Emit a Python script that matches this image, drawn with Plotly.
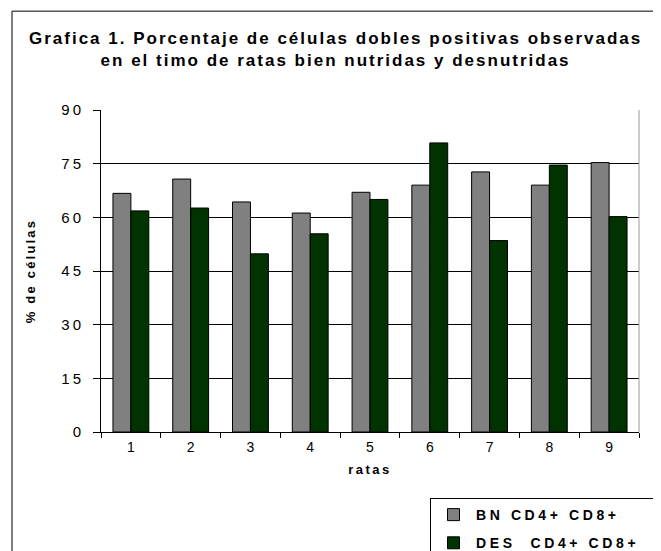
import plotly.graph_objects as go

ratas = ["1", "2", "3", "4", "5", "6", "7", "8", "9"]
bn_cd4_cd8 = [66.7, 70.7, 64.3, 61.2, 67.0, 69.0, 72.7, 69.0, 75.3]
des_cd4_cd8 = [61.8, 62.6, 49.8, 55.4, 65.0, 80.8, 53.5, 74.6, 60.2]
y_ticks = [0, 15, 30, 45, 60, 75, 90]

FONT = "Liberation Sans, Arial, sans-serif"


def spaced(text, sp=1.5):
    return f'<span style="letter-spacing:{sp}px">{text}</span>'


def frame_line(x0, y0, x1, y1, color="black"):
    return dict(type="line", xref="paper", yref="paper",
                x0=x0, y0=y0, x1=x1, y1=y1,
                line=dict(color=color, width=1))


# figure is larger than the window on purpose: the legend box runs off the
# right and bottom edges like in the original, without squeezing the plot
fig = go.Figure()

fig.add_trace(
    go.Bar(
        x=ratas,
        y=bn_cd4_cd8,
        name=spaced("<b>BN CD4+ CD8+</b>" + "&nbsp;" * 5, 3.6),
        legendgroup="bn",
        marker=dict(color="#808080", line=dict(color="black", width=1)),
    )
)
fig.add_trace(
    go.Bar(
        x=ratas,
        y=des_cd4_cd8,
        name=spaced("<b>DES&nbsp; CD4+ CD8+</b>", 3.6),
        legendgroup="des",
        marker=dict(color="#003300", line=dict(color="black", width=1)),
    )
)

fig.update_layout(
    width=700,
    height=600,
    margin=dict(l=93, r=69, t=102, b=176),
    paper_bgcolor="white",
    plot_bgcolor="white",
    font=dict(family=FONT, size=13, color="black"),
    barmode="group",
    bargap=0.4,
    bargroupgap=0,
    title=dict(
        text=spaced("<b>Grafica 1. Porcentaje de células dobles positivas observadas</b>", 2.0)
        + "<br>"
        + spaced("<b>en el timo de ratas bien nutridas y desnutridas</b>", 2.0),
        x=0.468,
        xanchor="center",
        y=0.94,
        yanchor="top",
        font=dict(size=17),
    ),
    legend=dict(
        x=0.6115,
        xanchor="left",
        y=-0.205,
        yanchor="top",
        bgcolor="white",
        bordercolor="black",
        borderwidth=1,
        font=dict(size=14),
        itemwidth=35,
        traceorder="grouped",
        tracegroupgap=7,
    ),
    shapes=[
        # chart frame
        frame_line(-0.1654, 1.307, -0.1654, -0.5),
        frame_line(-0.1654, 1.307, 1.039, 1.307),
        frame_line(1.039, 1.307, 1.039, -0.5, color="#808080"),
        # plot area right border
        frame_line(1, 0, 1, 1, color="#999999"),
    ],
)

fig.update_xaxes(
    title=dict(text=spaced("<b>ratas</b>", 2.5), standoff=11, font=dict(size=13)),
    tickmode="array",
    tickvals=ratas,
    ticktext=ratas,
    tickfont=dict(size=14),
    ticks="outside",
    tickson="boundaries",
    ticklen=5,
    tickcolor="black",
    ticklabelstandoff=2,
    showline=True,
    linecolor="black",
    showgrid=False,
    automargin=False,
)

fig.update_yaxes(
    title=dict(text=spaced("<b>% de células</b>", 2.2), standoff=22, font=dict(size=13)),
    range=[0, 90],
    tickmode="array",
    tickvals=y_ticks,
    ticktext=[spaced(str(v), 3) for v in y_ticks],
    tickfont=dict(size=15),
    ticks="outside",
    ticklen=7,
    tickcolor="black",
    ticklabelstandoff=6,
    showline=True,
    linecolor="black",
    showgrid=True,
    gridcolor="black",
    gridwidth=1,
    zeroline=False,
    automargin=False,
)

fig.write_html("out.html")
